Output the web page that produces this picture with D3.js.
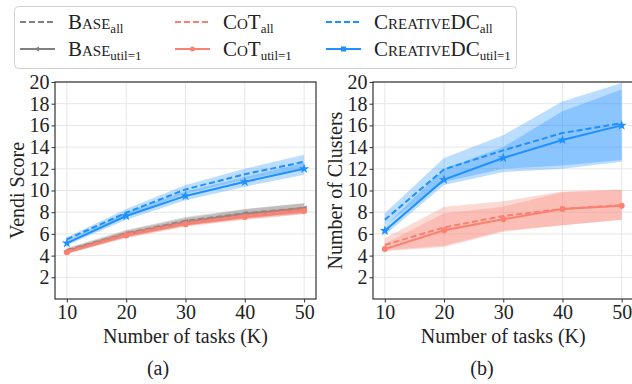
<!DOCTYPE html>
<html>
<head>
<meta charset="utf-8">
<script src="https://cdn.jsdelivr.net/npm/d3@7"></script>
<style>
  body { margin: 0; background: #fff; }
  svg { display: block; }
  svg text { font-family: "Liberation Serif", "DejaVu Serif", serif; }
</style>
</head>
<body>
<svg id="chart" width="632" height="384"></svg>
<script>
// data
var tasks = [10, 20, 30, 40, 50];
var yTicks = [2, 4, 6, 8, 10, 12, 14, 16, 18, 20];

// (a) Vendi score
var vendiBaseAll = [4.5, 6.05, 7.2, 7.9, 8.4];
var vendiBaseAllLo = [4.3, 5.75, 6.85, 7.5, 7.95];
var vendiBaseAllHi = [4.7, 6.35, 7.55, 8.3, 8.85];
var vendiBaseUtil = [4.4, 6.0, 7.1, 7.85, 8.35];
var vendiBaseUtilLo = [4.2, 5.7, 6.75, 7.45, 7.9];
var vendiBaseUtilHi = [4.6, 6.3, 7.45, 8.25, 8.8];
var vendiCotAll = [4.4, 5.95, 7.0, 7.65, 8.2];
var vendiCotAllLo = [4.2, 5.7, 6.75, 7.35, 7.85];
var vendiCotAllHi = [4.6, 6.2, 7.25, 7.95, 8.55];
var vendiCotUtil = [4.3, 5.85, 6.9, 7.55, 8.1];
var vendiCotUtilLo = [4.15, 5.6, 6.65, 7.3, 7.8];
var vendiCotUtilHi = [4.45, 6.1, 7.15, 7.8, 8.4];
var vendiCdcAll = [5.5, 7.95, 10.1, 11.5, 12.65];
var vendiCdcAllLo = [5.3, 7.65, 9.7, 11.0, 12.05];
var vendiCdcAllHi = [5.7, 8.3, 10.5, 12.0, 13.3];
var vendiCdcUtil = [5.15, 7.65, 9.5, 10.8, 12.0];
var vendiCdcUtilLo = [4.95, 7.3, 9.1, 10.35, 11.45];
var vendiCdcUtilHi = [5.35, 8.0, 9.9, 11.25, 12.55];

// (b) number of clusters
var clusCotAll = [4.98, 6.6, 7.65, 8.3, 8.65];
var clusCotAllLo = [4.5, 4.9, 6.3, 6.8, 7.3];
var clusCotAllHi = [5.6, 8.5, 9.0, 9.9, 10.1];
var clusCotUtil = [4.6, 6.33, 7.35, 8.3, 8.6];
var clusCotUtilLo = [4.4, 4.8, 6.2, 6.8, 7.3];
var clusCotUtilHi = [5.1, 7.9, 8.5, 9.85, 10.05];
var clusCdcAll = [7.3, 11.95, 13.7, 15.3, 16.2];
var clusCdcAllLo = [6.8, 10.8, 12.0, 12.3, 12.8];
var clusCdcAllHi = [7.9, 13.0, 15.1, 18.2, 19.9];
var clusCdcUtil = [6.3, 11.0, 13.0, 14.65, 16.0];
var clusCdcUtilLo = [5.9, 10.5, 11.7, 12.0, 12.65];
var clusCdcUtilHi = [6.7, 12.0, 14.0, 17.3, 19.3];

var GRAY = "#808080", RED = "#fa8072", BLUE = "#1e90ff";
var SERIF = "Liberation Serif";

var svg = d3.select("#chart");

function series(vals, lo, hi, color, dashed, marker) {
  return {vals: vals, lo: lo, hi: hi, color: color, dashed: dashed, marker: marker};
}

var panelA = [
  series(vendiBaseAll, vendiBaseAllLo, vendiBaseAllHi, GRAY, true, null),
  series(vendiBaseUtil, vendiBaseUtilLo, vendiBaseUtilHi, GRAY, false, "tri"),
  series(vendiCotAll, vendiCotAllLo, vendiCotAllHi, RED, true, null),
  series(vendiCotUtil, vendiCotUtilLo, vendiCotUtilHi, RED, false, "circle"),
  series(vendiCdcAll, vendiCdcAllLo, vendiCdcAllHi, BLUE, true, null),
  series(vendiCdcUtil, vendiCdcUtilLo, vendiCdcUtilHi, BLUE, false, "star")
];
var panelB = [
  series(clusCotAll, clusCotAllLo, clusCotAllHi, RED, true, null),
  series(clusCotUtil, clusCotUtilLo, clusCotUtilHi, RED, false, "circle"),
  series(clusCdcAll, clusCdcAllLo, clusCdcAllHi, BLUE, true, null),
  series(clusCdcUtil, clusCdcUtilLo, clusCdcUtilHi, BLUE, false, "star")
];

function drawMarker(g, type, x, y, color) {
  if (type == "circle") {
    g.append("circle").attr("cx", x).attr("cy", y).attr("r", 3).attr("fill", color);
  } else if (type == "tri") {
    g.append("path").attr("d", "M" + (x - 3.5) + "," + y + "L" + (x + 2.5) + "," + (y - 3) + "L" + (x + 2.5) + "," + (y + 3) + "Z")
      .attr("fill", color);
  } else if (type == "star") {
    g.append("path").attr("transform", "translate(" + x + "," + y + ")")
      .attr("d", d3.symbol().type(d3.symbolStar).size(32)()).attr("fill", color);
  }
}

function drawPanel(left, right, ylabel, data, caption, captionX) {
  var top = 82, bottom = 299;
  var x = d3.scaleLinear().domain([8, 52]).range([left, right]);
  var y = d3.scaleLinear().domain([0, 20]).range([bottom, top]);
  var g = svg.append("g");

  // grid
  g.selectAll(".gy").data(yTicks).enter().append("line")
    .attr("x1", left).attr("x2", right).attr("y1", function(d) { return y(d); }).attr("y2", function(d) { return y(d); })
    .attr("stroke", "#e6e6e6").attr("stroke-width", 1);
  g.selectAll(".gx").data(tasks).enter().append("line")
    .attr("y1", top).attr("y2", bottom).attr("x1", function(d) { return x(d); }).attr("x2", function(d) { return x(d); })
    .attr("stroke", "#e6e6e6").attr("stroke-width", 1);

  var area = d3.area().x(function(d, i) { return x(tasks[i]); })
    .y0(function(d) { return y(d[0]); }).y1(function(d) { return y(d[1]); });
  var line = d3.line().x(function(d, i) { return x(tasks[i]); }).y(function(d) { return y(d); });

  data.forEach(function(s) {
    var band = s.lo.map(function(v, i) { return [v, s.hi[i]]; });
    g.append("path").attr("d", area(band)).attr("fill", s.color).attr("fill-opacity", 0.3);
    g.append("path").attr("d", line(s.vals)).attr("fill", "none").attr("stroke", s.color)
      .attr("stroke-width", 2).attr("stroke-dasharray", s.dashed ? "6,3" : null);
    if (s.marker) {
      s.vals.forEach(function(v, i) { drawMarker(g, s.marker, x(tasks[i]), y(v), s.color); });
    }
  });

  // axes
  var xAxis = d3.axisBottom(x).tickValues(tasks).tickSize(3.5).tickPadding(2);
  var yAxis = d3.axisLeft(y).tickValues(yTicks).tickSize(3.5).tickPadding(2);
  var ax = g.append("g").attr("transform", "translate(0," + bottom + ")").call(xAxis);
  var ay = g.append("g").attr("transform", "translate(" + left + ",0)").call(yAxis);
  [ax, ay].forEach(function(a) {
    a.attr("font-family", SERIF).attr("font-size", 20);
    a.select(".domain").remove();
    a.selectAll("line").attr("stroke", "#333");
    a.selectAll("text").attr("fill", "#222");
  });
  ax.selectAll("text").attr("dy", "0.72em");

  g.append("rect").attr("x", left).attr("y", top).attr("width", right - left).attr("height", bottom - top)
    .attr("fill", "none").attr("stroke", "#333").attr("stroke-width", 1.2);

  g.append("text").attr("x", (left + right) / 2).attr("y", 343).attr("text-anchor", "middle")
    .attr("font-family", SERIF).attr("font-size", 20).attr("fill", "#222").text("Number of tasks (K)");
  g.append("text").attr("transform", "translate(" + (left - 31) + "," + ((top + bottom) / 2) + ") rotate(-90)")
    .attr("text-anchor", "middle").attr("font-family", SERIF).attr("font-size", 20).attr("fill", "#222").text(ylabel);
  g.append("text").attr("x", captionX).attr("y", 375).attr("text-anchor", "middle")
    .attr("font-family", SERIF).attr("font-size", 20).attr("fill", "#222").text(caption);
}

drawPanel(55, 316, "Vendi Score", panelA, "(a)", 158);
drawPanel(373, 633.5, "Number of Clusters", panelB, "(b)", 482);

// legend
var leg = svg.append("g");
leg.append("rect").attr("x", 14.5).attr("y", 6.5).attr("width", 502).attr("height", 62).attr("rx", 4)
  .attr("fill", "#fff").attr("stroke", "#d0d0d0").attr("stroke-width", 1);

var legendItems = [
  {col: 0, row: 0, color: GRAY, dashed: true, marker: null, parts: [["B", 21], ["ASE", 15]], sub: "all"},
  {col: 0, row: 1, color: GRAY, dashed: false, marker: "tri", parts: [["B", 21], ["ASE", 15]], sub: "util=1"},
  {col: 1, row: 0, color: RED, dashed: true, marker: null, parts: [["C", 21], ["O", 15], ["T", 21]], sub: "all"},
  {col: 1, row: 1, color: RED, dashed: false, marker: "circle", parts: [["C", 21], ["O", 15], ["T", 21]], sub: "util=1"},
  {col: 2, row: 0, color: BLUE, dashed: true, marker: null, parts: [["C", 21], ["REATIVE", 15], ["DC", 21]], sub: "all"},
  {col: 2, row: 1, color: BLUE, dashed: false, marker: "square", parts: [["C", 21], ["REATIVE", 15], ["DC", 21]], sub: "util=1"}
];
var colX = [20, 175, 326];
var rowY = [22, 49];

legendItems.forEach(function(it) {
  var lx = colX[it.col], ly = rowY[it.row];
  leg.append("line").attr("x1", lx).attr("x2", lx + 35).attr("y1", ly).attr("y2", ly)
    .attr("stroke", it.color).attr("stroke-width", 2).attr("stroke-dasharray", it.dashed ? "6,3" : null);
  if (it.marker == "square") {
    leg.append("rect").attr("x", lx + 15).attr("y", ly - 2.5).attr("width", 5).attr("height", 5).attr("fill", it.color);
  } else if (it.marker == "circle") {
    leg.append("circle").attr("cx", lx + 17.5).attr("cy", ly).attr("r", 2.5).attr("fill", it.color);
  } else if (it.marker == "tri") {
    leg.append("path").attr("d", "M" + (lx + 14) + "," + ly + "L" + (lx + 19) + "," + (ly - 2.5) + "L" + (lx + 19) + "," + (ly + 2.5) + "Z")
      .attr("fill", it.color);
  }
  var t = leg.append("text").attr("x", lx + 48).attr("y", ly + 7).attr("fill", "#222").attr("font-family", SERIF);
  it.parts.forEach(function(p) {
    t.append("tspan").attr("font-size", p[1]).text(p[0]);
  });
  t.append("tspan").attr("font-size", 13).attr("dy", 4).text(it.sub);
});
</script>
</body>
</html>
